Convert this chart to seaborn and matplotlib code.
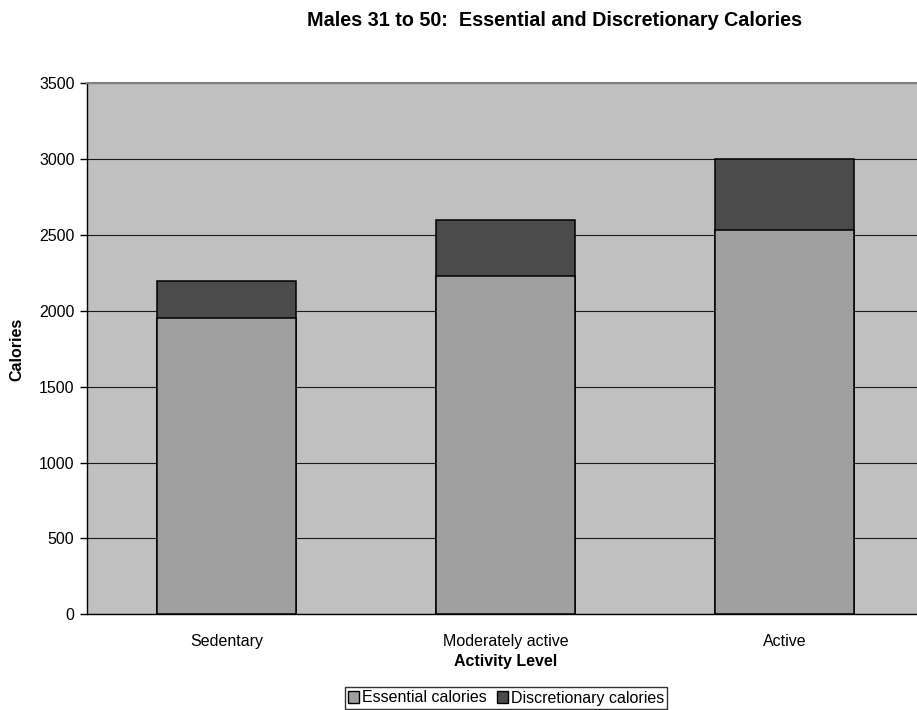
import matplotlib
matplotlib.use("Agg")
import matplotlib.pyplot as plt
from matplotlib.patches import Patch
import seaborn as sns
import pandas as pd

# Daily calorie needs by activity level
activity = ["Sedentary", "Moderately active", "Active"]
essential = [1955, 2228, 2530]
discretionary = [245, 372, 470]
yticks = [0, 500, 1000, 1500, 2000, 2500, 3000, 3500]

total = [e + d for e, d in zip(essential, discretionary)]
df = pd.DataFrame({"Activity Level": activity, "Essential": essential, "Total": total})

sns.set_theme(style="white")
plt.rcParams["font.family"] = ["Liberation Sans", "DejaVu Sans"]
plt.rcParams["text.color"] = "black"
plt.rcParams["axes.labelcolor"] = "black"
plt.rcParams["xtick.color"] = "black"
plt.rcParams["ytick.color"] = "black"

ESSENTIAL_C = "#a0a0a0"
DISCRETIONARY_C = "#4b4b4b"

fig = plt.figure(figsize=(9.17, 7.10), dpi=100)
ax = fig.add_axes([87 / 917, 1 - 614.3 / 710, 837 / 917, 531 / 710])
ax.set_facecolor("#c0c0c0")

# Full bar height (essential + discretionary), then essential portion over it
sns.barplot(data=df, x="Activity Level", y="Total", color=DISCRETIONARY_C,
            saturation=1, width=0.5, edgecolor="black", linewidth=1.1, ax=ax, zorder=3)
sns.barplot(data=df, x="Activity Level", y="Essential", color=ESSENTIAL_C,
            saturation=1, width=0.5, edgecolor="black", linewidth=1.1, ax=ax, zorder=4)

ax.set_ylim(0, 3500)
ax.set_xlim(-0.5, 2.5)
ax.set_yticks(yticks)
ax.set_yticklabels([str(v) for v in yticks], fontsize=11.5)
ax.yaxis.grid(True, color="#1a1a1a", linewidth=0.8, zorder=1)
ax.set_axisbelow(True)

# Category labels without ticks; tick marks at category boundaries
ax.set_xticks(range(len(activity)))
ax.set_xticklabels(activity, fontsize=11.5)
ax.tick_params(axis="x", length=0, pad=14)
ax.set_xticks([-0.5, 0.5, 1.5, 2.5], minor=True)
ax.tick_params(axis="x", which="minor", length=5, width=1, color="black", direction="out")
ax.tick_params(axis="y", length=5, width=1, color="black", direction="out", left=True, pad=4)

ax.spines["right"].set_visible(False)
ax.spines["top"].set_color("#808080")
ax.spines["top"].set_linewidth(1.5)
ax.spines["left"].set_color("black")
ax.spines["bottom"].set_color("black")
ax.spines["left"].set_linewidth(1.0)
ax.spines["bottom"].set_linewidth(1.0)

ax.set_xlabel("Activity Level", fontsize=11.5, fontweight="bold", labelpad=4)
ax.set_ylabel("")
fig.text(17 / 917, 1 - 349 / 710, "Calories", rotation=90, fontsize=11.5,
         fontweight="bold", ha="center", va="center")

fig.text(307 / 917, 1 - 20 / 710, "Males 31 to 50:  Essential and Discretionary Calories",
         fontsize=14.2, fontweight="bold", ha="left", va="center")

handles = [Patch(facecolor=ESSENTIAL_C, edgecolor="black", label="Essential calories"),
           Patch(facecolor=DISCRETIONARY_C, edgecolor="black", label="Discretionary calories")]
leg = fig.legend(handles=handles, loc="center", bbox_to_anchor=(506 / 917, 1 - 698 / 710),
                 ncol=2, fontsize=11.5, frameon=True, fancybox=False, borderpad=0.2,
                 handlelength=0.7, handleheight=0.7, handletextpad=0.2, columnspacing=0.6,
                 borderaxespad=0)
leg.get_frame().set_edgecolor("black")
leg.get_frame().set_linewidth(1.0)

fig.savefig("out.png", dpi=100, facecolor="white")
